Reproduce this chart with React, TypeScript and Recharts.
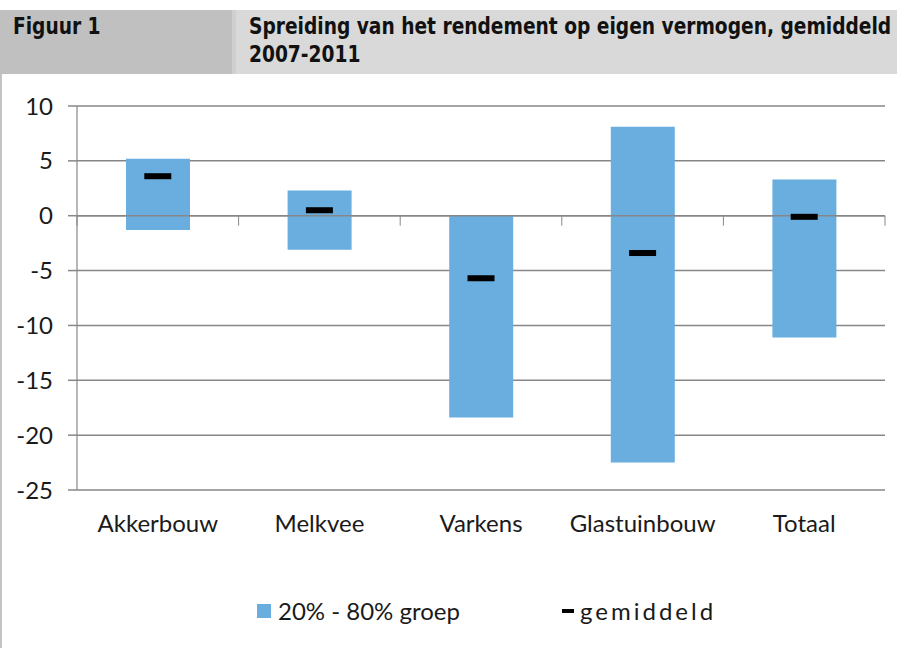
import { ComposedChart, Bar, Line, XAxis, YAxis, CartesianGrid, ReferenceLine } from 'recharts';

// --- data ---
const sectors = ['Akkerbouw', 'Melkvee', 'Varkens', 'Glastuinbouw', 'Totaal'];
const p20 = [-1.3, -3.1, -18.4, -22.5, -11.1];
const p80 = [5.2, 2.3, 0.0, 8.1, 3.3];
const means = [3.6, 0.5, -5.7, -3.4, -0.1];
const yTicks = [-25, -20, -15, -10, -5, 0, 5, 10];

const data = sectors.map((name, i) => ({ name, range: [p20[i], p80[i]], mean: means[i] }));

const GRID = '#878787';
const BLUE = '#69aedf';
const FONT = "Lato, 'Open Sans', sans-serif";
const HEAD_FONT = "'DejaVu Sans Condensed', 'DejaVu Sans', sans-serif";

// black dash for the average
const MeanDash = (props: any) => {
  const { cx, cy } = props;
  if (cx == null || cy == null) return null;
  return <rect x={cx - 13.5} y={cy - 3} width={27} height={6} fill="#000" />;
};

// horizontal axis at y=0, with category separator ticks pointing down
const ZeroAxis = (props: any) => {
  const { x1, x2, y1 } = props;
  const n = sectors.length;
  const step = (x2 - x1) / n;
  return (
    <g>
      <line x1={x1} x2={x2} y1={y1} y2={y1} stroke={GRID} strokeWidth={1.6} />
      {Array.from({ length: n + 1 }, (_, i) => (
        <line key={i} x1={x1 + i * step} x2={x1 + i * step} y1={y1} y2={y1 + 10} stroke={GRID} strokeWidth={1} />
      ))}
    </g>
  );
};

const headText = {
  position: 'absolute' as const,
  fontFamily: HEAD_FONT,
  fontWeight: 'bold' as const,
  fontSize: 23,
  lineHeight: '28px',
  color: '#111',
  whiteSpace: 'nowrap' as const,
  transform: 'scaleX(0.9)',
  transformOrigin: 'left top',
};

export default function App() {
  return (
    <div style={{ position: 'absolute', left: 0, top: 0, width: 897, height: 648, background: '#fff', overflow: 'hidden' }}>
      {/* header */}
      <div style={{ position: 'absolute', left: 0, top: 10, width: 232, height: 64, background: '#c0c0c0' }} />
      <div style={{ position: 'absolute', left: 236, top: 10, width: 661, height: 64, background: '#d9d9d9' }} />
      <div style={{ position: 'absolute', left: 232, top: 10, width: 4, height: 64, background: '#cfcfcf' }} />
      <div style={{ ...headText, left: 13, top: 12 }}>Figuur 1</div>
      <div style={{ ...headText, left: 249, top: 12 }}>
        Spreiding van het rendement op eigen vermogen, gemiddeld
        <br />
        2007-2011
      </div>
      {/* left frame */}
      <div style={{ position: 'absolute', left: 0, top: 74, width: 2, height: 574, background: '#c4c4c4' }} />

      <div style={{ position: 'absolute', left: 0, top: 74 }}>
        <ComposedChart width={897} height={574} data={data} margin={{ top: 32, right: 12, left: 0, bottom: 118 }}>
          <CartesianGrid vertical={false} stroke={GRID} strokeWidth={1.5} />
          <XAxis
            dataKey="name"
            axisLine={false}
            tickLine={false}
            height={40}
            tickMargin={19}
            tick={{ fill: '#1a1a1a', fontSize: 24, fontFamily: FONT }}
          />
          <YAxis
            type="number"
            domain={[-25, 10]}
            ticks={yTicks}
            interval={0}
            width={77}
            tickSize={9}
            tickMargin={15}
            axisLine={{ stroke: GRID, strokeWidth: 1.2 }}
            tickLine={{ stroke: GRID, strokeWidth: 1.5 }}
            tick={{ fill: '#1a1a1a', fontSize: 24, fontFamily: FONT }}
          />
          <Bar dataKey="range" fill={BLUE} barSize={64} isAnimationActive={false} />
          <ReferenceLine y={0} shape={<ZeroAxis />} />
          <Line
            dataKey="mean"
            stroke="none"
            dot={<MeanDash />}
            activeDot={false}
            isAnimationActive={false}
          />
        </ComposedChart>
      </div>

      {/* legend */}
      <div style={{ position: 'absolute', left: 257, top: 596, display: 'flex', alignItems: 'center', fontFamily: FONT, fontSize: 24, color: '#1a1a1a' }}>
        <span style={{ display: 'inline-block', width: 14, height: 14, background: BLUE, marginRight: 7 }} />
        <span>20% - 80% groep</span>
      </div>
      <div style={{ position: 'absolute', left: 562, top: 596, display: 'flex', alignItems: 'center', fontFamily: FONT, fontSize: 24, color: '#1a1a1a' }}>
        <span style={{ display: 'inline-block', width: 12, height: 4, background: '#000', marginRight: 6 }} />
        <span style={{ letterSpacing: 3 }}>gemiddeld</span>
      </div>
    </div>
  );
}
